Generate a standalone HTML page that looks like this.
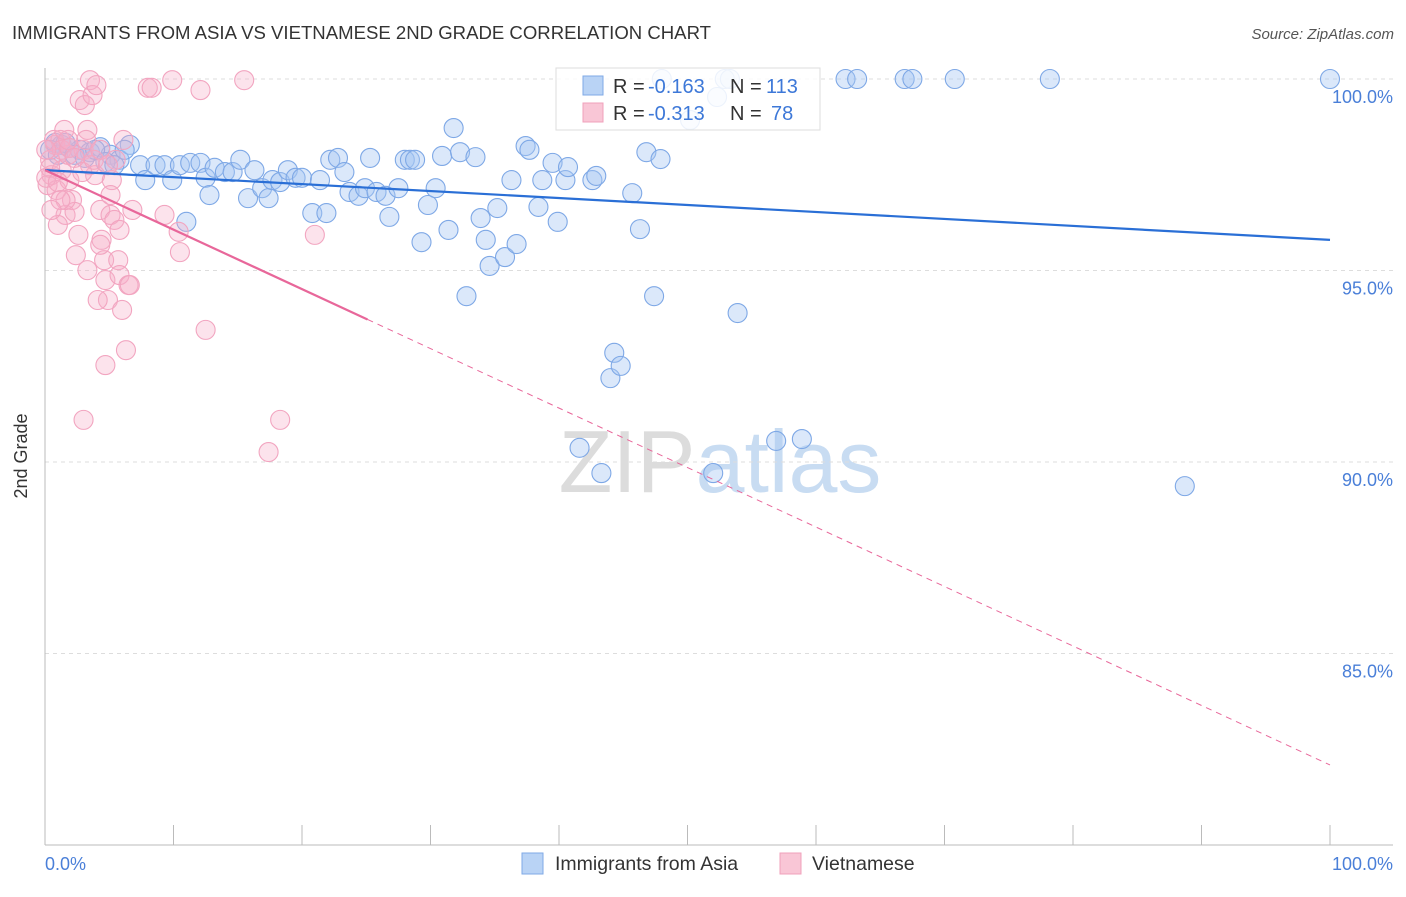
<!DOCTYPE html>
<html><head><meta charset="utf-8"><style>
body{margin:0;background:#fff;font-family:"Liberation Sans",sans-serif}
svg text{font-family:"Liberation Sans",sans-serif}
</style></head><body>
<svg width="1406" height="892" id="chart">
<text x="12" y="39" font-size="18" fill="#333" textLength="699" lengthAdjust="spacingAndGlyphs">IMMIGRANTS FROM ASIA VS VIETNAMESE 2ND GRADE CORRELATION CHART</text>
<text x="1394" y="39" font-size="15" fill="#555" text-anchor="end" font-style="italic">Source: ZipAtlas.com</text>
<text x="720" y="492" font-size="88" fill="#dcdcdc" text-anchor="middle" font-family="Liberation Serif">ZIP<tspan fill="#c8dcf2" font-family="Liberation Sans">atlas</tspan></text>
<g id="grid"></g>
<line x1="45" y1="68" x2="45" y2="845" stroke="#bbb"/>
<line x1="45" y1="845" x2="1393" y2="845" stroke="#bbb"/>
<text x="27" y="456" font-size="18" fill="#333" text-anchor="middle" transform="rotate(-90 27 456)">2nd Grade</text>
<text x="45" y="870" font-size="18" fill="#4a7fd8">0.0%</text>
<text x="1393" y="870" font-size="18" fill="#4a7fd8" text-anchor="end">100.0%</text>
<g id="pts"></g>
<g id="trends"></g>
<g>
<rect x="556" y="68" width="264" height="62" fill="#fff" fill-opacity="0.85" stroke="#ddd"/>
<rect x="583" y="76" width="20" height="19" fill="#b9d3f5" stroke="#7fa9e6"/>
<rect x="583" y="103" width="20" height="19" fill="#f9c6d6" stroke="#f0a0bb"/>
<text x="613" y="93" font-size="20" fill="#333">R =</text>
<text x="648" y="93" font-size="20" fill="#3d78d8">-0.163</text>
<text x="730" y="93" font-size="20" fill="#333">N =</text>
<text x="766" y="93" font-size="20" fill="#3d78d8">113</text>
<text x="613" y="120" font-size="20" fill="#333">R =</text>
<text x="648" y="120" font-size="20" fill="#3d78d8">-0.313</text>
<text x="730" y="120" font-size="20" fill="#333">N =</text>
<text x="771" y="120" font-size="20" fill="#3d78d8">78</text>
</g>
<g>
<rect x="522" y="853" width="21" height="21" fill="#b9d3f5" stroke="#7fa9e6"/>
<text x="555" y="870" font-size="19.5" fill="#333">Immigrants from Asia</text></g>
<g>
<rect x="780" y="853" width="21" height="21" fill="#f9c6d6" stroke="#f0a0bb"/>
<text x="812" y="870" font-size="19.5" fill="#333">Vietnamese</text></g>
</svg>
<script>
const yTicks=[100,95,90,85];
const yTickLabels=["100.0%","95.0%","90.0%","85.0%"];
const xTicks=[0,10,20,30,40,50,60,70,80,90,100];
const asiaX=[0.8,1.3,1.9,2.7,3.5,4.3,5.1,5.8,6.6,7.4,7.8,8.6,9.3,9.9,10.5,11.0,11.3,12.1,12.5,12.8,13.2,14.0,14.6,15.2,15.8,16.3,16.9,17.4,17.7,18.3,18.9,19.5,20.0,20.8,21.4,21.9,22.2,22.8,23.3,23.7,24.4,24.9,25.3,25.8,26.5,26.8,27.5,28.0,28.4,28.8,29.3,29.8,30.4,30.9,31.4,31.8,32.3,32.8,33.5,33.9,34.3,34.6,35.2,35.8,36.3,36.7,37.4,37.7,38.4,38.7,39.5,39.9,40.5,40.7,41.6,42.6,42.9,43.3,44.0,44.3,44.8,45.7,46.3,46.8,47.4,47.9,48.0,50.2,52.0,52.3,52.9,53.3,53.9,56.9,58.9,62.3,63.2,66.9,67.5,70.8,78.2,88.7,100,0.4,1.0,1.6,2.3,3.1,3.9,4.7,5.4,6.2];
const asiaY=[98.33,98.28,98.20,98.15,98.09,98.22,98.02,97.89,98.28,97.75,97.36,97.75,97.75,97.36,97.75,96.27,97.81,97.81,97.42,96.97,97.68,97.57,97.57,97.89,96.89,97.62,97.15,96.89,97.36,97.31,97.62,97.42,97.42,96.50,97.36,96.50,97.89,97.94,97.57,97.05,96.95,97.15,97.94,97.05,96.95,96.40,97.15,97.89,97.89,97.89,95.74,96.71,97.15,97.99,96.06,98.72,98.09,94.33,97.96,96.37,95.80,95.12,96.63,95.35,97.36,95.69,98.25,98.15,96.66,97.36,97.81,96.27,97.36,97.70,90.37,97.36,97.47,89.71,92.19,92.85,92.51,97.02,96.08,98.09,94.33,97.91,100,98.93,89.71,99.53,100,100,93.89,90.55,90.60,100,100,100,100,100,100,89.37,100,98.15,98.02,98.33,98.02,97.94,98.15,97.83,97.75,98.15];
const vietX=[0.4,0.8,0.5,0.2,0.9,1.2,1.3,1.6,1.8,1.9,2.1,2.3,1.0,2.6,2.7,3.1,3.5,3.7,4.0,3.3,3.0,3.5,3.9,4.3,4.4,4.6,4.7,4.9,5.1,5.2,5.4,5.5,5.7,5.8,6.0,6.1,6.3,6.5,6.6,4.7,3.0,6.8,8.0,8.3,9.3,9.9,10.4,10.5,12.1,12.5,15.5,17.4,18.3,21.0,0.7,1.3,1.9,0.4,0.1,1.0,1.6,2.3,2.9,3.2,3.8,4.3,5.1,4.1,2.4,1.8,1.5,4.3,4.9,1.2,0.5,3.3,5.8,0.1];
const vietY=[97.89,98.28,97.49,97.23,97.10,98.41,97.62,96.45,98.02,97.36,96.84,96.53,96.19,95.93,99.45,99.32,99.97,99.58,99.84,98.67,98.15,97.75,97.49,96.58,95.80,95.27,94.75,94.23,96.45,97.36,96.32,97.89,95.27,94.88,93.97,98.41,92.92,94.62,94.62,92.53,91.10,96.58,99.77,99.77,96.45,99.97,96.01,95.48,99.71,93.45,99.97,90.26,91.10,95.93,98.41,98.15,98.20,97.68,97.42,97.31,96.84,97.94,97.57,98.41,97.89,95.67,96.97,94.23,95.40,98.41,98.67,98.15,97.75,96.84,96.58,95.01,96.06,98.15];
const asiaTrend=[97.62,95.80];
const vietTrend=[97.62,82.09];
const vietSolidEnd=25.1;
const NS="http://www.w3.org/2000/svg";
const xs=v=>45+v*12.85;
const ys=v=>79+(100-v)*38.3;
function mk(t,a,p){const e=document.createElementNS(NS,t);for(const k in a)e.setAttribute(k,a[k]);p.appendChild(e);return e;}
const grid=document.getElementById('grid');
yTicks.forEach((t,i)=>{
 const l=mk('line',{x1:45,x2:1393,y1:ys(t),y2:ys(t),stroke:'#ddd','stroke-dasharray':'4,4'},grid);
 
 
 const tx=mk('text',{x:1393,y:ys(t)+24,'font-size':18,fill:'#4a7fd8','text-anchor':'end'},grid);
 tx.textContent=yTickLabels[i];
 
 
});
xTicks.forEach(t=>{
 const l=mk('line',{x1:xs(t),x2:xs(t),y1:825,y2:845,stroke:'#bbb'},grid);
 
 
});
const pts=document.getElementById('pts');
asiaX.forEach((x,i)=>{
 const c=mk('circle',{cx:xs(x),cy:ys(asiaY[i]),r:9.5,fill:'rgba(165,198,242,0.4)',stroke:'#7ea8e6','stroke-width':1.1},pts);
 
 
});
vietX.forEach((x,i)=>{
 const c=mk('circle',{cx:xs(x),cy:ys(vietY[i]),r:9.5,fill:'rgba(247,175,200,0.35)',stroke:'#f2a5c0','stroke-width':1.1},pts);
 
 
});
const tr=document.getElementById('trends');
const vm=vietTrend[0]+(vietTrend[1]-vietTrend[0])*vietSolidEnd/100;
let l1=mk('line',{x1:xs(0),y1:ys(asiaTrend[0]),x2:xs(100),y2:ys(asiaTrend[1]),stroke:'#2a6fd6','stroke-width':2.2},tr);


let l2=mk('line',{x1:xs(0),y1:ys(vietTrend[0]),x2:xs(vietSolidEnd),y2:ys(vm),stroke:'#e8679a','stroke-width':2.2},tr);


let l3=mk('line',{x1:xs(vietSolidEnd),y1:ys(vm),x2:xs(100),y2:ys(vietTrend[1]),stroke:'#e8679a','stroke-width':1,'stroke-dasharray':'6,5'},tr);


</script>
</body></html>
